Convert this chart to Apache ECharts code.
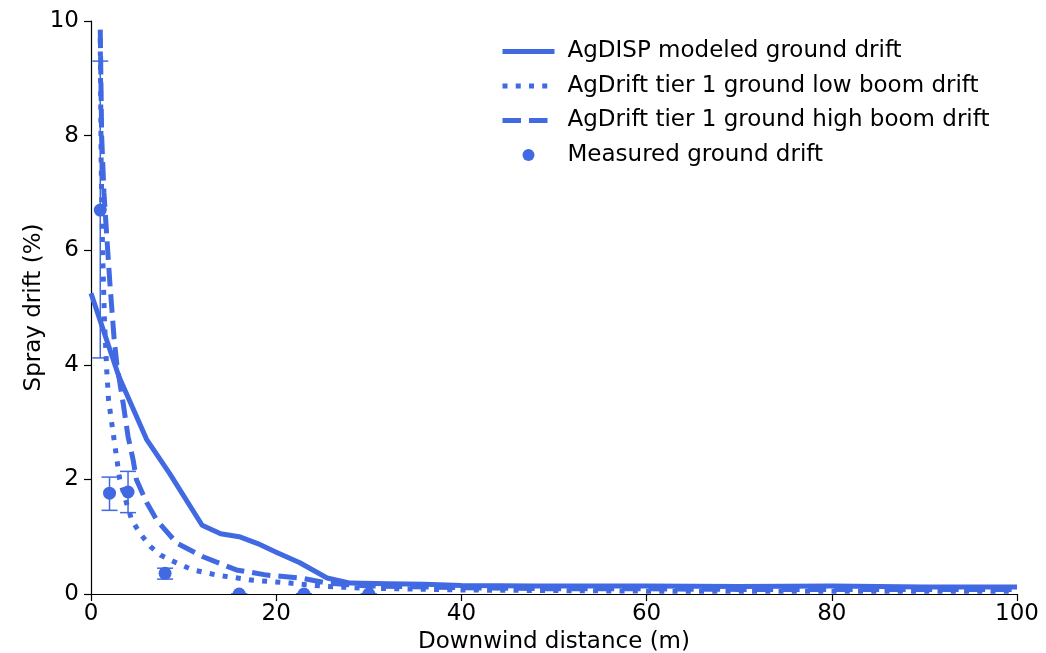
<!DOCTYPE html>
<html>
<head>
<meta charset="utf-8">
<script src="https://cdn.jsdelivr.net/npm/echarts@6/dist/echarts.min.js"></script>
<style>
  html, body { margin: 0; padding: 0; background: #fff; }
  #chart { width: 1046px; height: 653px; }
</style>
</head>
<body>
<div id="chart"></div>
<script>
// Modeled drift curves: [distance (m), drift (%)]
const agdispX = [0, 3, 6, 8.5, 12, 14, 16, 18, 20, 22.5, 25.5, 28, 32, 36, 40, 48, 60, 70, 80, 90, 100];
const agdispY = [5.25, 3.8, 2.7, 2.1, 1.2, 1.05, 1.0, 0.88, 0.73, 0.55, 0.28, 0.19, 0.18, 0.17, 0.15, 0.14, 0.14, 0.13, 0.14, 0.12, 0.12];

const lowBoomX = [1.0, 1.1, 1.25, 1.45, 1.7, 1.9, 2.4, 2.8, 3.1, 3.85, 4.4, 5.3, 6.4, 7.5, 9.25, 11, 13.6, 17.5, 21.5, 25.5, 30, 40, 50, 60, 80, 100];
const lowBoomY = [9.7, 7.5, 6.0, 4.8, 3.9, 3.38, 2.8, 2.34, 2.0, 1.58, 1.29, 1.06, 0.83, 0.68, 0.54, 0.42, 0.33, 0.24, 0.19, 0.13, 0.1, 0.07, 0.06, 0.05, 0.05, 0.05];

const highBoomX = [1.0, 1.15, 1.4, 1.8, 2.05, 2.5, 2.8, 3.5, 4.0, 4.55, 4.9, 6, 7.1, 9.25, 12.1, 15.7, 19, 22.6, 25.5, 30, 40, 50, 60, 70, 80, 90, 100];
const highBoomY = [9.85, 8.0, 7.0, 6.0, 5.4, 4.45, 4.0, 3.3, 2.75, 2.34, 2.0, 1.6, 1.29, 0.89, 0.65, 0.42, 0.33, 0.28, 0.19, 0.14, 0.11, 0.09, 0.09, 0.08, 0.08, 0.08, 0.08];

// Field measurements with error bar bounds
const measX = [1, 2, 4, 8, 16, 23, 30];
const measY = [6.7, 1.76, 1.78, 0.36, 0, 0, 0];
const measLo = [4.12, 1.46, 1.42, 0.26, 0, 0, 0];
const measHi = [9.3, 2.04, 2.14, 0.45, 0, 0, 0];

const xTicks = [0, 20, 40, 60, 80, 100];
const yTicks = [0, 2, 4, 6, 8, 10];

const NAMES = [
  'AgDISP modeled ground drift',
  'AgDrift tier 1 ground low boom drift',
  'AgDrift tier 1 ground high boom drift',
  'Measured ground drift'
];
const BLUE = '#4169E1';
const FONT = 'DejaVu Sans';
const FS = 23;

const zip = (xs, ys) => xs.map((x, i) => [x, ys[i]]);

const chart = echarts.init(document.getElementById('chart'), null, { renderer: 'canvas' });

const lineSeries = (name, xs, ys, dash) => ({
  name,
  type: 'line',
  data: zip(xs, ys),
  showSymbol: false,
  symbol: 'none',
  smooth: false,
  clip: true,
  animation: false,
  lineStyle: { color: BLUE, width: 5, type: dash, cap: 'butt', join: 'round' },
  itemStyle: { color: BLUE }
});

chart.setOption({
  animation: false,
  backgroundColor: '#fff',
  grid: { left: 91, right: 29, top: 21, bottom: 59, containLabel: false, outerBoundsMode: 'none' },
  legend: {
    orient: 'vertical',
    left: 500,
    top: 40,
    padding: 0,
    itemWidth: 52,
    itemHeight: 12,
    itemGap: 11.5,
    itemStyle: { color: 'rgba(0,0,0,0)', borderWidth: 0 },
    lineStyle: { width: 5, color: BLUE },
    textStyle: { fontFamily: FONT, fontSize: FS, color: '#000', padding: [0, 0, 0, 8] },
    data: [
      { name: NAMES[0] },
      { name: NAMES[1] },
      { name: NAMES[2] },
      { name: NAMES[3], icon: 'circle', itemStyle: { color: BLUE } }
    ]
  },
  xAxis: {
    type: 'value',
    min: 0, max: 100, interval: 20,
    name: 'Downwind distance (m)',
    nameLocation: 'middle',
    nameGap: 37,
    nameMoveOverlap: false,
    nameTextStyle: { fontFamily: FONT, fontSize: FS, color: '#000' },
    axisLine: { show: true, lineStyle: { color: '#000', width: 1.2 } },
    axisTick: { show: true, inside: false, length: 7, lineStyle: { color: '#000', width: 1.2 } },
    axisLabel: {
      fontFamily: FONT, fontSize: FS, color: '#000', margin: 9,
      formatter: v => (xTicks.includes(v) ? String(v) : '')
    },
    splitLine: { show: false }
  },
  yAxis: {
    type: 'value',
    min: 0, max: 10, interval: 2,
    name: 'Spray drift (%)',
    nameLocation: 'middle',
    nameGap: 45,
    nameRotate: 90,
    nameMoveOverlap: false,
    nameTextStyle: { fontFamily: FONT, fontSize: FS, color: '#000' },
    axisLine: { show: true, lineStyle: { color: '#000', width: 1.2 } },
    axisTick: { show: true, inside: false, length: 7, lineStyle: { color: '#000', width: 1.2 } },
    axisLabel: {
      fontFamily: FONT, fontSize: FS, color: '#000', margin: 12,
      formatter: v => (yTicks.includes(v) ? String(v) : '')
    },
    splitLine: { show: false }
  },
  series: [
    lineSeries(NAMES[0], agdispX, agdispY, 'solid'),
    lineSeries(NAMES[1], lowBoomX, lowBoomY, [5, 8.25]),
    lineSeries(NAMES[2], highBoomX, highBoomY, [18.5, 8]),
    {
      name: NAMES[3],
      type: 'custom',
      clip: true,
      animation: false,
      itemStyle: { color: BLUE },
      encode: { x: 0, y: 1 },
      data: measX.map((x, i) => [x, measY[i], measLo[i], measHi[i]]),
      renderItem: (params, api) => {
        const x = api.value(0);
        const c = api.coord([x, api.value(1)]);
        const lo = api.coord([x, api.value(2)]);
        const hi = api.coord([x, api.value(3)]);
        const cap = 8;
        const stroke = { stroke: BLUE, lineWidth: 1.5 };
        return {
          type: 'group',
          children: [
            { type: 'line', shape: { x1: c[0], y1: lo[1], x2: c[0], y2: hi[1] }, style: stroke },
            { type: 'line', shape: { x1: c[0] - cap, y1: lo[1], x2: c[0] + cap, y2: lo[1] }, style: stroke },
            { type: 'line', shape: { x1: c[0] - cap, y1: hi[1], x2: c[0] + cap, y2: hi[1] }, style: stroke },
            { type: 'circle', shape: { cx: c[0], cy: c[1], r: 6.5 }, style: { fill: BLUE } }
          ]
        };
      }
    }
  ]
});
</script>
</body>
</html>
